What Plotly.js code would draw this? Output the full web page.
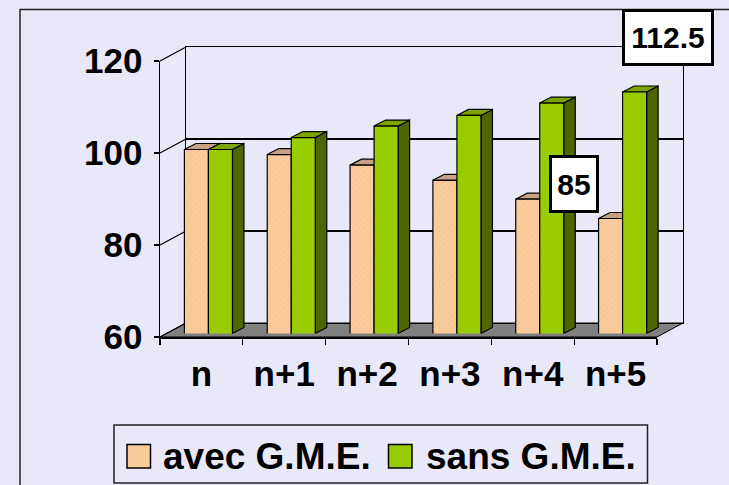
<!DOCTYPE html>
<html>
<head>
<meta charset="utf-8">
<script src="https://cdn.plot.ly/plotly-3.0.1.min.js"></script>
<style>html,body{margin:0;padding:0;background:#E8E8F8;}#chart{width:729px;height:485px;}</style>
</head>
<body>
<div id="chart"></div>
<script>
// ---- data ----
const categories = ["n", "n+1", "n+2", "n+3", "n+4", "n+5"];
const avecGME = [100, 98.9, 96.6, 93.3, 89.2, 85];
const sansGME = [100, 102.6, 105.1, 107.4, 110.1, 112.5];
const seriesNames = ["avec G.M.E.", "sans G.M.E."];
const yTicks = [60, 80, 100, 120];

// ---- layout geometry (pixels) ----
const W = 729, H = 485;
const FONT = "Liberation Sans, Arial, Helvetica, sans-serif";
const front = {x0: 160, x1: 657, yTop: 61, yBot: 337};   // front plane (axes)
const backOff = {dx: 26, dy: -14};                          // back wall offset
const barOff = {dx: 7, dy: -3.5};                           // bar plane offset
const yMin = 60, yMax = 120;
const pxPerUnit = (front.yBot - front.yTop) / (yMax - yMin);

function domainOf(off) {
  return {
    x: [(front.x0 + off.dx) / W, (front.x1 + off.dx) / W],
    y: [1 - (front.yBot + off.dy) / H, 1 - (front.yTop + off.dy) / H]
  };
}
const dA = domainOf({dx: 0, dy: 0});
const dB = domainOf(backOff);
const dC = domainOf(barOff);
const px = v => v / W;
const py = v => 1 - v / H;
const yFront = v => front.yBot - (v - yMin) * pxPerUnit;

// bar geometry in data units
const bargap = 0.42;
const barW = (1 - bargap) / 2;
const catPx = (front.x1 - front.x0) / categories.length;
const DX = 11.5 / catPx;
const DY = 6 / pxPerUnit;

const colAvec = "#FACB9B", colAvecTop = "#C6A282", colAvecSide = "#A98462";
const colSans = "#99CC00", colSansTop = "#7BA400", colSansSide = "#4D6600";

const shapes = [];
// outer frame
shapes.push({type: "rect", xref: "paper", yref: "paper", x0: px(20), x1: px(W + 20), y0: py(H + 20), y1: py(9.5),
  line: {color: "#222", width: 1.5}, fillcolor: "rgba(0,0,0,0)", layer: "below"});
// floor
const fl = [[front.x0, front.yBot], [front.x1, front.yBot], [front.x1 + backOff.dx, front.yBot + backOff.dy], [front.x0 + backOff.dx, front.yBot + backOff.dy]];
shapes.push({type: "path", xref: "paper", yref: "paper", layer: "below",
  path: "M" + fl.map(p => px(p[0]) + "," + py(p[1])).join("L") + "Z",
  fillcolor: "#808080", line: {color: "#000", width: 1}});
// left wall diagonals
yTicks.forEach(v => {
  shapes.push({type: "line", xref: "paper", yref: "paper", layer: "below",
    x0: px(front.x0), y0: py(yFront(v)), x1: px(front.x0 + backOff.dx), y1: py(yFront(v) + backOff.dy),
    line: {color: "#000", width: 1.2}});
});

// 3D faces of bars
function faces(vals, offA, top, side) {
  vals.forEach((v, i) => {
    const a = i + offA, b = a + barW;
    shapes.push({type: "path", xref: "x3", yref: "y3", layer: "below",
      path: `M${b},${yMin} L${b},${v} L${b + DX},${v + DY} L${b + DX},${yMin + DY} Z`,
      fillcolor: side, line: {color: "#000", width: 1.2}});
    shapes.push({type: "path", xref: "x3", yref: "y3", layer: "below",
      path: `M${a},${v} L${b},${v} L${b + DX},${v + DY} L${a + DX},${v + DY} Z`,
      fillcolor: top, line: {color: "#000", width: 1.2}});
  });
}
faces(avecGME, -barW, colAvecTop, colAvecSide);
faces(sansGME, 0, colSansTop, colSansSide);

// legend (custom)
const leg = {x0: 114, x1: 647.5, y0: 425, y1: 483};
shapes.push({type: "rect", xref: "paper", yref: "paper", x0: px(leg.x0), x1: px(leg.x1), y0: py(leg.y1), y1: py(leg.y0),
  line: {color: "#222", width: 1.5}, fillcolor: "rgba(0,0,0,0)"});
const swatches = [{x: 127, c: colAvec, tx: 160.5}, {x: 388.5, c: colSans, tx: 423.5}];
swatches.forEach(s => {
  shapes.push({type: "rect", xref: "paper", yref: "paper", x0: px(s.x), x1: px(s.x + 23.5), y0: py(468), y1: py(444.5),
    line: {color: "#000", width: 1.5}, fillcolor: s.c});
});

const annotations = [];
seriesNames.forEach((nm, k) => {
  annotations.push({xref: "paper", yref: "paper", x: px(swatches[k].tx), y: py(456), xanchor: "left", yanchor: "middle",
    text: nm, showarrow: false, font: {family: FONT, size: 37, weight: 700, color: "#000"}});
});
// data labels (boxes)
annotations.push({xref: "paper", yref: "paper", x: px(667.5), y: py(37.5), xanchor: "center", yanchor: "middle",
  text: String(sansGME[5]), showarrow: false, bgcolor: "#fff", bordercolor: "#000", borderwidth: 3, borderpad: 0,
  width: 86, height: 51, font: {family: FONT, size: 30, weight: 700, color: "#000"}});
annotations.push({xref: "paper", yref: "paper", x: px(574), y: py(184), xanchor: "center", yanchor: "middle",
  text: String(avecGME[5]), showarrow: false, bgcolor: "#fff", bordercolor: "#000", borderwidth: 3, borderpad: 0,
  width: 44, height: 52, font: {family: FONT, size: 30, weight: 700, color: "#000"}});

const traces = [
  {type: "bar", name: seriesNames[0], x: categories, y: avecGME, xaxis: "x3", yaxis: "y3",
   marker: {color: colAvec, line: {color: "#000", width: 1.2},
            pattern: {shape: "/", fgcolor: "#C89468", fgopacity: 0.2, size: 4, solidity: 0.2, fillmode: "overlay"}},
   hoverinfo: "x+y"},
  {type: "bar", name: seriesNames[1], x: categories, y: sansGME, xaxis: "x3", yaxis: "y3",
   marker: {color: colSans, line: {color: "#000", width: 1.2}}, hoverinfo: "x+y"},
  // invisible traces to activate the front and back planes
  {type: "scatter", x: categories, y: avecGME.map(() => null), xaxis: "x", yaxis: "y", showlegend: false, hoverinfo: "skip"},
  {type: "scatter", x: [0], y: [null], xaxis: "x2", yaxis: "y2", showlegend: false, hoverinfo: "skip"}
];

const tickFont = {family: FONT, size: 35, weight: 700, color: "#000"};
const layout = {
  width: W, height: H,
  margin: {l: 0, r: 0, t: 0, b: 0, pad: 0},
  paper_bgcolor: "#E8E8F8",
  plot_bgcolor: "rgba(0,0,0,0)",
  showlegend: false,
  barmode: "group", bargap: bargap, bargroupgap: 0,
  xaxis: {domain: dA.x, anchor: "y", type: "category", categoryarray: categories, range: [-0.5, 5.5],
          showline: true, linecolor: "#000", linewidth: 2, ticks: "outside", ticklen: 6, tickwidth: 1.2, tickcolor: "#000",
          tickson: "boundaries", tickfont: tickFont, showgrid: false, zeroline: false, fixedrange: true, ticklabelstandoff: 5},
  yaxis: {domain: dA.y, anchor: "x", range: [yMin, yMax], tickvals: yTicks, showline: true, linecolor: "#000", linewidth: 1.5,
          ticks: "outside", ticklen: 5, tickwidth: 1.2, tickcolor: "#000", tickfont: tickFont, showgrid: false, zeroline: false,
          fixedrange: true, ticklabelstandoff: 4},
  xaxis2: {domain: dB.x, anchor: "y2", range: [-0.5, 5.5], showline: true, mirror: true, linecolor: "#000", linewidth: 1.2,
           showticklabels: false, ticks: "", showgrid: false, zeroline: false, fixedrange: true},
  yaxis2: {domain: dB.y, anchor: "x2", range: [yMin, yMax], tickvals: [80, 100], showgrid: true, gridcolor: "#000", gridwidth: 1.2,
           showline: true, mirror: true, linecolor: "#000", linewidth: 1.2, showticklabels: false, ticks: "", zeroline: false, fixedrange: true},
  xaxis3: {domain: dC.x, anchor: "y3", type: "category", categoryarray: categories, range: [-0.5, 5.5], visible: false, fixedrange: true},
  yaxis3: {domain: dC.y, anchor: "x3", range: [yMin, yMax], visible: false, fixedrange: true},
  shapes: shapes,
  annotations: annotations
};

Plotly.newPlot("chart", traces, layout, {displayModeBar: false, staticPlot: true});
</script>
</body>
</html>
